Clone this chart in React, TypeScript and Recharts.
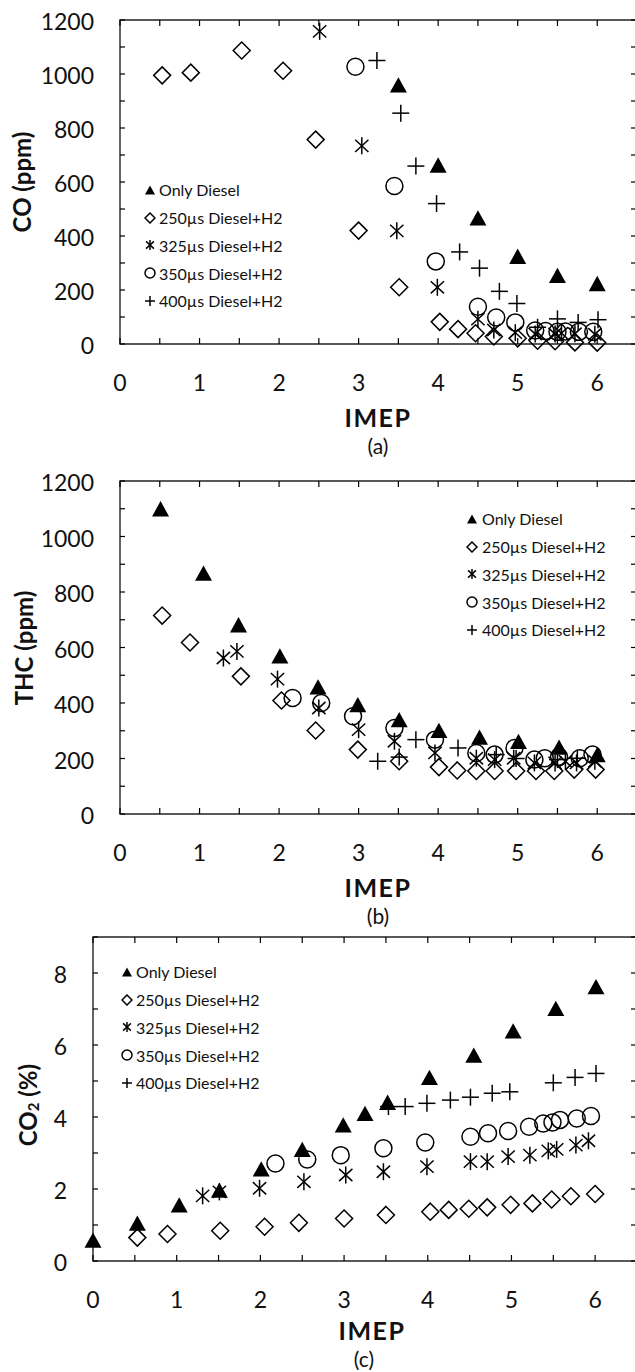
import React from "react";
import {
  ScatterChart,
  Scatter,
  XAxis,
  YAxis,
  ReferenceArea,
  Legend,
} from "recharts";

// ---- data ----
type Pt = [number, number];

const SERIES_NAMES = [
  "Only Diesel",
  "250µs Diesel+H2",
  "325µs Diesel+H2",
  "350µs Diesel+H2",
  "400µs Diesel+H2",
];
const SERIES_KINDS = ["tri", "dia", "ast", "cir", "plus"];

const X_TICKS = [0, 0.5, 1, 1.5, 2, 2.5, 3, 3.5, 4, 4.5, 5, 5.5, 6, 6.5];
const PPM_TICKS = [0, 100, 200, 300, 400, 500, 600, 700, 800, 900, 1000, 1100, 1200];
const CO2_TICKS = [0, 1, 2, 3, 4, 5, 6, 7, 8, 9];

// (a) CO
const CO_DIESEL: Pt[] = [[3.5, 960], [4, 663], [4.5, 467], [5, 325], [5.5, 254], [6, 224]];
const CO_250: Pt[] = [
  [0.53, 995], [0.89, 1005], [1.53, 1087], [2.05, 1012], [2.46, 757], [3.0, 420], [3.51, 210],
  [4.02, 82], [4.25, 55], [4.47, 40], [4.7, 28], [5.0, 21], [5.25, 12], [5.47, 10], [5.72, 6], [6.0, 5],
];
const CO_325: Pt[] = [
  [2.51, 1158], [3.04, 734], [3.48, 419], [3.99, 210], [4.5, 92], [4.7, 52], [4.97, 42],
  [5.22, 37], [5.47, 37], [5.55, 40], [5.72, 38], [5.97, 36],
];
const CO_350: Pt[] = [
  [2.96, 1027], [3.45, 585], [3.97, 306], [4.5, 138], [4.73, 98], [4.97, 80], [5.22, 50],
  [5.35, 48], [5.5, 45], [5.6, 46], [5.77, 45], [5.95, 45],
];
const CO_400: Pt[] = [
  [3.23, 1050], [3.53, 855], [3.72, 659], [3.98, 520], [4.27, 341], [4.52, 281], [4.77, 195],
  [4.99, 150], [5.25, 62], [5.5, 93], [5.76, 80], [6.01, 90],
];

// (b) THC
const THC_DIESEL: Pt[] = [
  [0.51, 1100], [1.05, 868], [1.49, 682], [2.01, 570], [2.49, 458], [2.99, 394], [3.51, 340],
  [4.01, 301], [4.52, 277], [5.01, 262], [5.52, 241], [6.0, 214],
];
const THC_250: Pt[] = [
  [0.53, 715], [0.88, 618], [1.52, 496], [2.03, 409], [2.46, 301], [2.99, 232], [3.51, 190],
  [4.01, 169], [4.24, 157], [4.48, 155], [4.71, 155], [4.98, 155], [5.23, 155], [5.46, 155],
  [5.71, 160], [5.98, 160],
];
const THC_325: Pt[] = [
  [1.3, 562], [1.47, 586], [1.98, 486], [2.5, 382], [3.0, 304], [3.45, 262], [3.96, 220],
  [4.48, 201], [4.71, 196], [4.95, 201], [5.21, 184], [5.47, 184], [5.6, 190], [5.74, 184], [5.97, 190],
];
const THC_350: Pt[] = [
  [2.17, 418], [2.53, 400], [2.93, 352], [3.45, 310], [3.96, 268], [4.48, 220], [4.71, 214],
  [4.96, 238], [5.21, 196], [5.34, 201], [5.52, 206], [5.78, 201], [5.94, 214],
];
const THC_400: Pt[] = [
  [3.24, 190], [3.51, 205], [3.72, 268], [4.25, 238], [4.73, 214], [4.98, 200], [5.5, 196], [5.75, 201],
];

// (c) CO2
const CO2_DIESEL: Pt[] = [
  [0, 0.58], [0.53, 1.05], [1.03, 1.56], [1.51, 1.97], [2.01, 2.56], [2.5, 3.1], [2.99, 3.78],
  [3.25, 4.1], [3.52, 4.41], [4.02, 5.1], [4.55, 5.72], [5.02, 6.39], [5.53, 7.02], [6.01, 7.62],
];
const CO2_250: Pt[] = [
  [0.53, 0.65], [0.89, 0.75], [1.52, 0.84], [2.05, 0.95], [2.46, 1.06], [3.0, 1.18], [3.5, 1.28],
  [4.03, 1.37], [4.25, 1.42], [4.49, 1.45], [4.71, 1.49], [4.99, 1.56], [5.25, 1.6], [5.48, 1.71],
  [5.71, 1.8], [6.0, 1.86],
];
const CO2_325: Pt[] = [
  [1.31, 1.81], [1.51, 1.92], [1.99, 2.02], [2.52, 2.2], [3.02, 2.39], [3.47, 2.48], [3.99, 2.62],
  [4.51, 2.76], [4.71, 2.76], [4.96, 2.9], [5.22, 2.94], [5.44, 3.06], [5.54, 3.1], [5.77, 3.22], [5.92, 3.34],
];
const CO2_350: Pt[] = [
  [2.18, 2.71], [2.56, 2.82], [2.96, 2.94], [3.47, 3.13], [3.97, 3.29], [4.51, 3.45], [4.72, 3.55],
  [4.96, 3.61], [5.21, 3.73], [5.38, 3.82], [5.49, 3.85], [5.58, 3.92], [5.78, 3.96], [5.95, 4.03],
];
const CO2_400: Pt[] = [
  [3.53, 4.29], [3.73, 4.29], [3.99, 4.38], [4.27, 4.47], [4.51, 4.55], [4.77, 4.66], [4.98, 4.7],
  [5.5, 4.95], [5.76, 5.1], [6.01, 5.21],
];

const FONT = "Lato, 'Open Sans', sans-serif";

const toPts = (arr: Pt[]) => arr.map(([x, y]) => ({ x, y }));

function Marker({ kind, cx, cy, s }: { kind: string; cx: number; cy: number; s: number }) {
  const r = s / 2;
  const sw = 1.5;
  if (kind === "tri") {
    const h = s * 0.9;
    return (
      <polygon
        points={`${cx},${cy - h / 2} ${cx + r},${cy + h / 2} ${cx - r},${cy + h / 2}`}
        fill="#000"
      />
    );
  }
  if (kind === "dia") {
    return (
      <polygon
        points={`${cx},${cy - r} ${cx + r},${cy} ${cx},${cy + r} ${cx - r},${cy}`}
        fill="none"
        stroke="#000"
        strokeWidth={sw}
      />
    );
  }
  if (kind === "cir") {
    return <circle cx={cx} cy={cy} r={r} fill="none" stroke="#000" strokeWidth={sw} />;
  }
  if (kind === "ast") {
    const dx = r * 0.78;
    const dy = r * 0.72;
    return (
      <g stroke="#000" strokeWidth={sw}>
        <line x1={cx} y1={cy - r} x2={cx} y2={cy + r} />
        <line x1={cx - dx} y1={cy - dy} x2={cx + dx} y2={cy + dy} />
        <line x1={cx + dx} y1={cy - dy} x2={cx - dx} y2={cy + dy} />
      </g>
    );
  }
  return (
    <g stroke="#000" strokeWidth={sw}>
      <line x1={cx} y1={cy - r} x2={cx} y2={cy + r} />
      <line x1={cx - r} y1={cy} x2={cx + r} y2={cy} />
    </g>
  );
}

interface PanelProps {
  top: number;
  plotBottomAbs: number;
  yAxisWidth: number;
  yMax: number;
  yTicks: number[];
  yLabelStep: number;
  series: Pt[][];
  title: React.ReactNode;
  titleX: number;
  titleY: number;
  letter: string;
  imepDy: number;
  letterDy: number;
  imepX: number;
  letterX: number;
  legendX: number;
  legendY: number;
  legendGap: number;
}

const WIDTH = 645;
const MARGIN = { top: 20, right: 8, bottom: 0, left: 0 };
const X_AXIS_H = 125;

function Panel(p: PanelProps) {
  const height = p.plotBottomAbs - p.top + X_AXIS_H;
  const plotTop = MARGIN.top;
  const plotBottom = height - X_AXIS_H;
  const plotLeft = p.yAxisWidth;
  const plotRight = WIDTH - MARGIN.right;

  const XTick = (props: any) => {
    const { x, payload } = props;
    const v = payload.value;
    return (
      <g>
        <line x1={x} x2={x} y1={plotBottom} y2={plotBottom - 6} stroke="#000" strokeWidth={1.2} />
        <line x1={x} x2={x} y1={plotTop} y2={plotTop + 6} stroke="#000" strokeWidth={1.2} />
        {Number.isInteger(v) && (
          <text
            x={x}
            y={plotBottom + 38}
            textAnchor="middle"
            dominantBaseline="central"
            fontFamily={FONT}
            fontSize={23}
            fill="#111"
          >
            {v}
          </text>
        )}
      </g>
    );
  };

  const YTick = (props: any) => {
    const { y, payload } = props;
    const v = payload.value;
    return (
      <g>
        <line x1={plotLeft} x2={plotLeft + 5} y1={y} y2={y} stroke="#000" strokeWidth={1.2} />
        <line x1={plotRight} x2={plotRight - 6} y1={y} y2={y} stroke="#000" strokeWidth={1.2} />
        {v % p.yLabelStep === 0 && (
          <text
            x={plotLeft - 26}
            y={y + 1}
            textAnchor="end"
            dominantBaseline="central"
            fontFamily={FONT}
            fontSize={23}
            fill="#111"
          >
            {v}
          </text>
        )}
      </g>
    );
  };

  const xLabel = () => (
    <g fontFamily={FONT} fill="#111">
      <text x={p.imepX} y={plotBottom + p.imepDy} textAnchor="middle" dominantBaseline="central" fontSize={25} fontWeight={700} letterSpacing={1.5}>
        IMEP
      </text>
      <text x={p.letterX} y={plotBottom + p.letterDy} textAnchor="middle" dominantBaseline="central" fontSize={21}>
        {p.letter}
      </text>
    </g>
  );

  const yLabel = () => (
    <text
      x={p.titleX}
      y={p.titleY}
      transform={`rotate(-90, ${p.titleX}, ${p.titleY})`}
      textAnchor="middle"
      dominantBaseline="central"
      fontFamily={FONT}
      fontSize={24}
      fontWeight={700}
      fill="#111"
    >
      {p.title}
    </text>
  );

  const renderLegend = () => (
    <div style={{ fontFamily: FONT, fontSize: 16, color: "#111" }}>
      {SERIES_NAMES.map((name, i) => (
        <div key={name} style={{ display: "flex", alignItems: "center", height: 27.7, whiteSpace: "nowrap" }}>
          <svg width={12} height={12} style={{ marginRight: p.legendGap - 6 }}>
            <Marker kind={SERIES_KINDS[i]} cx={6} cy={6} s={10} />
          </svg>
          <span>{name}</span>
        </div>
      ))}
    </div>
  );

  return (
    <div style={{ position: "absolute", left: 0, top: p.top }}>
      <ScatterChart width={WIDTH} height={height} margin={MARGIN}>
        <XAxis
          type="number"
          dataKey="x"
          domain={[0, 6.5]}
          ticks={X_TICKS}
          interval={0}
          height={X_AXIS_H}
          axisLine={false}
          tickLine={false}
          tick={XTick}
          label={{ content: xLabel }}
        />
        <YAxis
          type="number"
          dataKey="y"
          domain={[0, p.yMax]}
          ticks={p.yTicks}
          interval={0}
          width={p.yAxisWidth}
          axisLine={false}
          tickLine={false}
          tick={YTick}
          label={{ content: yLabel }}
        />
        <ReferenceArea x1={0} x2={6.5} y1={0} y2={p.yMax} fill="none" stroke="#222" strokeWidth={1.4} />
        <Legend
          layout="vertical"
          align="center"
          verticalAlign="middle"
          content={renderLegend}
          wrapperStyle={{ position: "absolute", left: p.legendX - 6, top: p.legendY - 13.85, width: "auto", height: "auto", margin: 0 }}
        />
        {p.series.map((s, i) => (
          <Scatter
            key={SERIES_NAMES[i]}
            name={SERIES_NAMES[i]}
            data={toPts(s)}
            isAnimationActive={false}
            shape={(sp: any) => <Marker kind={SERIES_KINDS[i]} cx={sp.cx} cy={sp.cy} s={17} />}
          />
        ))}
      </ScatterChart>
    </div>
  );
}

export default function App() {
  return (
    <div
      style={{
        position: "absolute",
        left: 0,
        top: 0,
        width: 635,
        height: 1372,
        overflow: "hidden",
        background: "#fff",
      }}
    >
      <Panel
        top={0}
        plotBottomAbs={344}
        yAxisWidth={120}
        yMax={1200}
        yTicks={PPM_TICKS}
        yLabelStep={200}
        series={[CO_DIESEL, CO_250, CO_325, CO_350, CO_400]}
        title="CO (ppm)"
        titleX={21}
        titleY={182}
        letter="(a)"
        imepDy={73}
        letterDy={101}
        imepX={378}
        letterX={378}
        legendX={150}
        legendY={190}
        legendGap={9}
      />
      <Panel
        top={461}
        plotBottomAbs={814}
        yAxisWidth={120}
        yMax={1200}
        yTicks={PPM_TICKS}
        yLabelStep={200}
        series={[THC_DIESEL, THC_250, THC_325, THC_350, THC_400]}
        title="THC (ppm)"
        titleX={23}
        titleY={187}
        letter="(b)"
        imepDy={73}
        letterDy={101}
        imepX={378}
        letterX={378}
        legendX={472}
        legendY={58}
        legendGap={10}
      />
      <Panel
        top={917}
        plotBottomAbs={1261}
        yAxisWidth={93}
        yMax={9}
        yTicks={CO2_TICKS}
        yLabelStep={2}
        series={[CO2_DIESEL, CO2_250, CO2_325, CO2_350, CO2_400]}
        title={
          <>
            <tspan>CO</tspan>
            <tspan fontSize={15} dy={6}>2</tspan>
            <tspan dy={-6}> (%)</tspan>
          </>
        }
        titleX={27}
        titleY={188}
        letter="(c)"
        imepDy={69}
        letterDy={97}
        imepX={372}
        letterX={364}
        legendX={127}
        legendY={55}
        legendGap={9}
      />
    </div>
  );
}
